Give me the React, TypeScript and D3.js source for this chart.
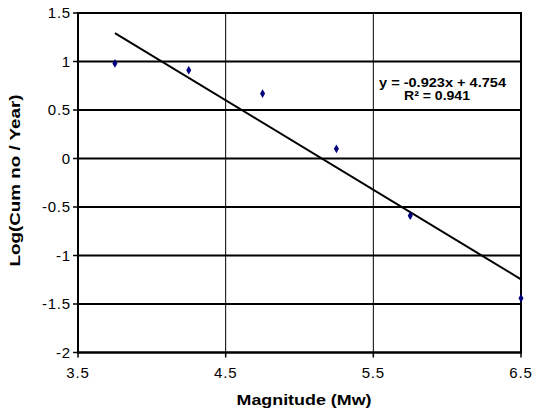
import React from "react";
import * as d3 from "d3";

const magnitudes = [3.75, 4.25, 4.75, 5.25, 5.75, 6.5];
const logCum = [0.98, 0.91, 0.67, 0.1, -0.59, -1.44];
const xTicks = [3.5, 4.5, 5.5, 6.5];
const yTicks = [1.5, 1, 0.5, 0, -0.5, -1, -1.5, -2];
const slope = -0.923;
const intercept = 4.754;
const trendRange = [3.75, 6.5];
const eqLines = ["y = -0.923x + 4.754", "R² = 0.941"];

const W = 537;
const H = 414;
const left = 78;
const right = 521;
const top = 13;
const bottom = 352.5;

export default function App() {
  const x = d3.scaleLinear().domain([3.5, 6.5]).range([left, right]);
  const y = d3.scaleLinear().domain([-2, 1.5]).range([bottom, top]);
  const font = "'Liberation Sans', Arial, Helvetica, sans-serif";
  const line = d3
    .line<number>()
    .x((d) => x(d))
    .y((d) => y(slope * d + intercept));
  const diamond = d3.symbol().type(d3.symbolDiamond).size(22)();
  const eqPos = [
    { cx: 442.5, y: 86.5, len: 127 },
    { cx: 437, y: 100, len: 66 },
  ];
  return (
    <svg
      width={W}
      height={H}
      style={{ position: "absolute", left: 0, top: 0, background: "#fff" }}
    >
      {/* horizontal gridlines */}
      {yTicks.map((t) => (
        <line
          key={"hg" + t}
          x1={left}
          x2={right}
          y1={y(t)}
          y2={y(t)}
          stroke="#000"
          strokeWidth={2}
        />
      ))}
      {/* vertical gridlines */}
      {xTicks.slice(1, -1).map((t) => (
        <line
          key={"vg" + t}
          x1={x(t)}
          x2={x(t)}
          y1={top}
          y2={bottom}
          stroke="#000"
          strokeWidth={1}
        />
      ))}
      {/* plot border */}
      <rect
        x={left}
        y={top}
        width={right - left}
        height={bottom - top}
        fill="none"
        stroke="#000"
        strokeWidth={2}
      />
      {/* y ticks */}
      {yTicks.map((t) => (
        <g key={"yt" + t}>
          <line x1={left - 5} x2={left} y1={y(t)} y2={y(t)} stroke="#000" strokeWidth={1.5} />
          <text
            x={left - 7}
            y={y(t)}
            dy="0.35em"
            textAnchor="end"
            fontFamily={font}
            fontSize={15}
            letterSpacing={0.8}
            fill="#000"
          >
            {t}
          </text>
        </g>
      ))}
      {/* x ticks */}
      {xTicks.map((t) => (
        <g key={"xt" + t}>
          <line x1={x(t)} x2={x(t)} y1={bottom} y2={bottom + 5} stroke="#000" strokeWidth={1.5} />
          <text
            x={x(t)}
            y={bottom + 25}
            textAnchor="middle"
            fontFamily={font}
            fontSize={15}
            letterSpacing={0.8}
            fill="#000"
          >
            {t}
          </text>
        </g>
      ))}
      {/* trendline */}
      <path d={line(trendRange) || ""} fill="none" stroke="#000" strokeWidth={2} />
      {/* points */}
      {magnitudes.map((m, i) => (
        <path
          key={"p" + i}
          d={diamond || ""}
          transform={`translate(${x(m)},${y(logCum[i])})`}
          fill="#000080"
        />
      ))}
      {/* equation */}
      {eqLines.map((s, i) => (
        <text
          key={"eq" + i}
          x={eqPos[i].cx - eqPos[i].len / 2}
          y={eqPos[i].y}
          textLength={eqPos[i].len}
          lengthAdjust="spacingAndGlyphs"
          fontFamily={font}
          fontSize={13}
          fontWeight="bold"
          fill="#000"
        >
          {s}
        </text>
      ))}
      {/* axis titles */}
      <text
        x={304 - 67.5}
        y={405}
        textLength={135}
        lengthAdjust="spacingAndGlyphs"
        fontFamily={font}
        fontSize={14}
        fontWeight="bold"
        fill="#000"
      >
        Magnitude (Mw)
      </text>
      <text
        transform={`translate(20,${180.5 + 86}) rotate(-90)`}
        textLength={172}
        lengthAdjust="spacingAndGlyphs"
        fontFamily={font}
        fontSize={14}
        fontWeight="bold"
        fill="#000"
      >
        Log(Cum no / Year)
      </text>
    </svg>
  );
}
